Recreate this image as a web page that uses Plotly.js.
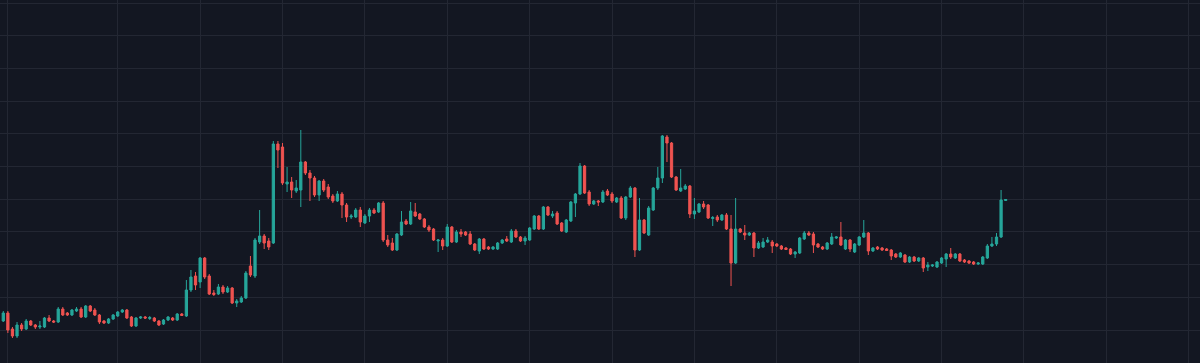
<!DOCTYPE html>
<html>
<head>
<meta charset="utf-8">
<script src="https://cdn.plot.ly/plotly-3.0.1.min.js"></script>
<style>
  html, body { margin: 0; padding: 0; background: #131722; }
  #chart { width: 1200px; height: 363px; }
</style>
</head>
<body>
<div id="chart"></div>
<script>
// OHLC values (one candle per period)
const open = [
  0.42,0.50,0.34,0.27,0.38,0.34,0.42,0.38,0.36,0.36,
  0.45,0.42,0.41,0.54,0.50,0.48,0.52,0.54,0.46,0.57,
  0.53,0.48,0.42,0.40,0.44,0.47,0.51,0.53,0.46,0.37,
  0.45,0.46,0.445,0.45,0.42,0.39,0.43,0.45,0.43,0.49,
  0.47,0.73,0.87,0.81,1.05,0.87,0.70,0.69,0.76,0.71,
  0.75,0.60,0.61,0.65,0.97,0.87,1.21,1.27,1.22,1.20,
  2.19,2.16,1.79,1.81,1.72,1.73,2.01,1.90,1.85,1.68,
  1.82,1.76,1.67,1.62,1.69,1.58,1.46,1.46,1.53,1.40,
  1.47,1.53,1.51,1.60,1.23,1.20,1.13,1.28,1.42,1.39,
  1.51,1.49,1.44,1.36,1.34,1.22,1.23,1.17,1.36,1.21,
  1.31,1.31,1.29,1.19,1.12,1.24,1.16,1.14,1.14,1.20,
  1.24,1.21,1.32,1.26,1.22,1.23,1.34,1.47,1.34,1.56,
  1.47,1.50,1.40,1.31,1.42,1.60,1.69,1.97,1.71,1.59,
  1.62,1.61,1.72,1.69,1.61,1.65,1.45,1.66,1.75,1.13,
  1.43,1.28,1.53,1.75,1.85,2.26,2.20,1.86,1.72,1.74,
  1.77,1.49,1.51,1.59,1.58,1.445,1.46,1.43,1.48,1.34,
  1.00,1.34,1.30,1.28,1.30,1.15,1.16,1.21,1.21,1.19,
  1.17,1.15,1.14,1.09,1.10,1.24,1.30,1.29,1.19,1.16,
  1.14,1.19,1.25,1.26,1.14,1.23,1.11,1.18,1.26,1.30,
  1.12,1.16,1.15,1.14,1.13,1.09,1.06,1.08,1.01,1.06,
  1.02,1.05,0.96,0.97,0.96,1.00,1.04,1.09,1.05,1.09,
  1.03,1.02,1.01,0.99,0.99,1.05,1.17,1.19,1.26,1.625
];
const high = [
  0.52,0.52,0.36,0.41,0.40,0.44,0.43,0.39,0.42,0.46,
  0.48,0.43,0.56,0.56,0.51,0.54,0.56,0.56,0.58,0.58,
  0.55,0.49,0.43,0.45,0.49,0.52,0.54,0.54,0.47,0.46,
  0.47,0.47,0.47,0.46,0.43,0.44,0.47,0.46,0.50,0.50,
  0.83,0.93,0.91,1.06,1.06,0.89,0.73,0.79,0.78,0.77,
  0.76,0.64,0.67,0.92,1.07,1.25,1.53,1.29,1.25,2.22,
  2.22,2.20,1.96,1.86,1.83,2.33,2.02,1.93,1.87,1.83,
  1.84,1.79,1.69,1.72,1.71,1.60,1.49,1.55,1.56,1.49,
  1.55,1.55,1.61,1.62,1.28,1.25,1.30,1.52,1.44,1.61,
  1.60,1.50,1.45,1.38,1.35,1.24,1.25,1.39,1.37,1.33,
  1.34,1.32,1.32,1.20,1.25,1.25,1.17,1.17,1.21,1.24,
  1.27,1.34,1.34,1.27,1.27,1.36,1.48,1.48,1.57,1.57,
  1.52,1.52,1.41,1.44,1.62,1.70,2.00,1.98,1.73,1.63,
  1.63,1.73,1.74,1.71,1.66,1.67,1.67,1.77,1.76,1.65,
  1.44,1.57,1.76,1.96,2.28,2.28,2.21,1.87,1.94,1.79,
  1.78,1.65,1.60,1.62,1.59,1.47,1.48,1.49,1.50,1.48,
  1.65,1.35,1.38,1.31,1.31,1.22,1.25,1.26,1.23,1.20,
  1.18,1.16,1.15,1.12,1.26,1.32,1.32,1.31,1.20,1.17,
  1.21,1.30,1.27,1.41,1.24,1.24,1.20,1.27,1.43,1.31,
  1.16,1.17,1.16,1.15,1.14,1.10,1.11,1.09,1.07,1.07,
  1.06,1.06,1.01,0.99,1.02,1.06,1.10,1.15,1.10,1.10,
  1.04,1.03,1.02,1.01,1.07,1.19,1.26,1.30,1.73,1.64
];
const low = [
  0.41,0.30,0.25,0.25,0.32,0.33,0.37,0.34,0.34,0.35,
  0.41,0.40,0.40,0.47,0.47,0.47,0.51,0.45,0.45,0.51,
  0.47,0.39,0.39,0.39,0.43,0.46,0.50,0.44,0.36,0.36,
  0.44,0.44,0.43,0.41,0.37,0.38,0.42,0.42,0.42,0.47,
  0.46,0.71,0.73,0.75,0.84,0.68,0.67,0.68,0.69,0.70,
  0.59,0.56,0.60,0.64,0.86,0.85,1.19,1.14,1.13,1.19,
  1.95,1.78,1.71,1.65,1.70,1.56,1.88,1.62,1.66,1.62,
  1.71,1.64,1.60,1.61,1.45,1.41,1.44,1.45,1.36,1.39,
  1.41,1.49,1.50,1.21,1.16,1.12,1.12,1.27,1.38,1.38,
  1.46,1.43,1.35,1.31,1.22,1.11,1.13,1.16,1.20,1.20,
  1.26,1.27,1.18,1.12,1.09,1.13,1.13,1.13,1.13,1.19,
  1.21,1.20,1.25,1.21,1.18,1.22,1.33,1.33,1.33,1.47,
  1.45,1.38,1.31,1.30,1.41,1.46,1.68,1.69,1.57,1.58,
  1.57,1.60,1.67,1.60,1.60,1.44,1.43,1.65,1.06,1.12,
  1.29,1.27,1.52,1.73,1.80,2.01,1.85,1.72,1.71,1.73,
  1.45,1.44,1.50,1.54,1.44,1.37,1.41,1.42,1.33,0.77,
  0.99,1.30,1.23,1.27,1.06,1.14,1.15,1.20,1.10,1.16,
  1.13,1.13,1.08,1.05,1.09,1.23,1.27,1.10,1.15,1.13,
  1.13,1.18,1.24,1.17,1.13,1.11,1.10,1.17,1.25,1.08,
  1.11,1.13,1.12,1.12,1.03,1.05,1.05,1.00,1.00,1.01,
  1.01,0.91,0.92,0.96,0.95,0.99,0.96,1.04,1.04,1.01,
  1.00,0.99,0.98,0.98,0.98,1.04,1.16,1.17,1.25,1.62
];
const close = [
  0.50,0.33,0.27,0.38,0.34,0.42,0.38,0.36,0.37,0.45,
  0.42,0.41,0.54,0.48,0.48,0.53,0.54,0.46,0.57,0.52,
  0.48,0.41,0.40,0.44,0.48,0.51,0.53,0.45,0.37,0.45,
  0.46,0.45,0.455,0.42,0.38,0.43,0.46,0.43,0.49,0.475,
  0.73,0.86,0.78,1.05,0.86,0.69,0.685,0.76,0.71,0.75,
  0.60,0.62,0.65,0.90,0.88,1.23,1.27,1.20,1.16,2.19,
  2.13,1.80,1.81,1.73,1.75,2.01,1.90,1.85,1.68,1.82,
  1.73,1.66,1.62,1.69,1.58,1.46,1.47,1.53,1.41,1.47,
  1.53,1.50,1.60,1.23,1.18,1.13,1.29,1.41,1.39,1.52,
  1.47,1.44,1.36,1.33,1.23,1.23,1.17,1.36,1.21,1.31,
  1.29,1.28,1.19,1.13,1.24,1.14,1.14,1.16,1.20,1.23,
  1.22,1.32,1.26,1.22,1.25,1.35,1.47,1.34,1.56,1.48,
  1.49,1.39,1.32,1.43,1.61,1.69,1.97,1.70,1.59,1.62,
  1.61,1.71,1.68,1.62,1.65,1.45,1.66,1.75,1.13,1.43,
  1.30,1.55,1.75,1.85,2.27,2.20,1.86,1.73,1.75,1.77,
  1.49,1.52,1.59,1.56,1.45,1.455,1.43,1.48,1.34,1.00,
  1.34,1.31,1.28,1.30,1.15,1.20,1.21,1.23,1.17,1.17,
  1.14,1.135,1.09,1.11,1.25,1.30,1.28,1.18,1.16,1.14,
  1.20,1.26,1.26,1.18,1.23,1.14,1.19,1.26,1.30,1.12,
  1.15,1.14,1.13,1.125,1.07,1.06,1.10,1.01,1.06,1.02,
  1.05,0.95,0.98,0.98,1.01,1.05,1.09,1.06,1.09,1.02,
  1.01,1.00,0.99,1.00,1.06,1.17,1.19,1.26,1.63,1.635
];
// positions of the time grid lines (candle index)
const timeGridTicks = [1, 25, 43, 61, 79, 97, 115, 133, 151, 169, 187, 205, 223, 241, 259];

const period = open.map((_, i) => i);
const lastClose = close[close.length - 1];

const trace = {
  type: 'candlestick',
  x: period,
  open: open, high: high, low: low, close: close,
  increasing: { line: { color: '#26a69a', width: 1 }, fillcolor: '#26a69a' },
  decreasing: { line: { color: '#ef5350', width: 1 }, fillcolor: '#ef5350' },
  whiskerwidth: 0,
  hoverinfo: 'none'
};

const layout = {
  width: 1200, height: 363,
  margin: { l: 0, r: 0, t: 0, b: 0, pad: 0 },
  paper_bgcolor: '#131722',
  plot_bgcolor: '#131722',
  showlegend: false,
  xaxis: {
    range: [-0.72, 261.46],
    tickmode: 'array', tickvals: timeGridTicks,
    showticklabels: false, ticks: '',
    showgrid: true, gridcolor: '#232733', gridwidth: 1,
    zeroline: false, showline: false,
    rangeslider: { visible: false },
    fixedrange: true
  },
  yaxis: {
    range: [0, 3.63],
    tick0: 0.33, dtick: 0.3267, tickmode: 'linear',
    showticklabels: false, ticks: '',
    showgrid: true, gridcolor: '#232733', gridwidth: 1,
    zeroline: false, showline: false,
    fixedrange: true
  },
  shapes: [{
    type: 'line', xref: 'paper', x0: 0, x1: 1,
    yref: 'y', y0: lastClose, y1: lastClose,
    line: { color: 'rgba(120,123,134,0.6)', width: 1, dash: 'dot' },
    layer: 'below'
  }]
};

Plotly.newPlot('chart', [trace], layout, { displayModeBar: false, staticPlot: true });
</script>
</body>
</html>
